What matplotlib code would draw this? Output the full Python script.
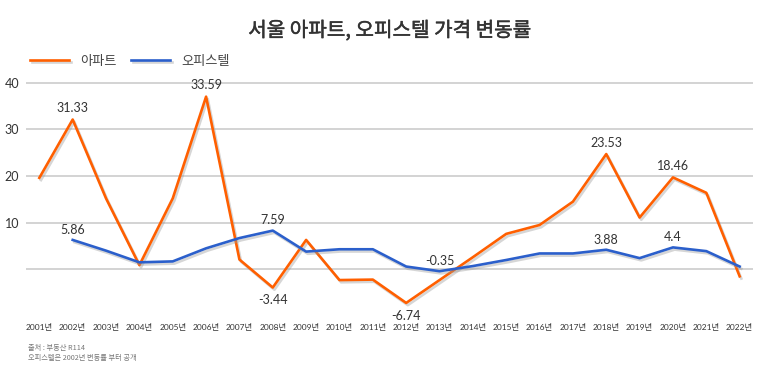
import matplotlib.pyplot as plt
import matplotlib.patheffects as pe

plt.rcParams['font.family'] = ['Lato', 'Noto Sans CJK KR', 'DejaVu Sans']

years = [str(y) for y in range(2001, 2023)]
xlabels = [y + '년' for y in years]

# 아파트 (2001-2022)
apt = [19.6, 32.1, 15.2, 0.9, 15.2, 37.0, 2.1, -3.9, 6.3, -2.3, -2.2,
       -7.2, -2.3, 2.6, 7.6, 9.5, 14.5, 24.7, 11.1, 19.7, 16.4, -1.5]
# 오피스텔 (2002-2022)
off = [6.3, 4.0, 1.5, 1.7, 4.5, 6.7, 8.3, 3.8, 4.3, 4.3,
       0.6, -0.4, 0.7, 2.0, 3.4, 3.4, 4.2, 2.4, 4.7, 3.9, 0.6]

# labelled points: (year index, text, above?)
apt_labels = [(1, '31.33', True), (5, '33.59', True), (7, '-3.44', False),
              (11, '-6.74', False), (17, '23.53', True), (19, '18.46', True)]
off_labels = [(1, '5.86', True), (7, '7.59', True), (12, '-0.35', True),
              (17, '3.88', True), (19, '4.4', True)]

orange = '#FF5F00'
blue = '#2B5FCB'

fig = plt.figure(figsize=(7.79, 3.72), dpi=100)
ax = fig.add_axes([26 / 779, 1 - 316 / 372, (753 - 26) / 779, (316 - 78) / 372])

x_apt = list(range(len(years)))
x_off = list(range(1, len(years)))

shadow = [pe.SimpleLineShadow(offset=(1.2, -1.6), shadow_color='#999999', alpha=0.4), pe.Normal()]
ax.plot(x_apt, apt, color=orange, lw=1.9, path_effects=shadow, label='아파트', zorder=3)
ax.plot(x_off, off, color=blue, lw=1.9, path_effects=shadow, label='오피스텔', zorder=3)

for i, txt, up in apt_labels:
    ax.annotate(txt, (x_apt[i], apt[i]), xytext=(0, 4 if up else -5), textcoords='offset points',
                ha='center', va='bottom' if up else 'top', fontsize=9, color='#333333')
for i, txt, up in off_labels:
    j = i - 1
    ax.annotate(txt, (x_off[j], off[j]), xytext=(0, 3 if up else -5), textcoords='offset points',
                ha='center', va='bottom' if up else 'top', fontsize=9, color='#333333')

ax.set_xlim(-0.4, 21.4)
ax.set_ylim(-10, 41)
ax.set_yticks([0, 10, 20, 30, 40])
ax.set_yticklabels(['', '10', '20', '30', '40'])
ax.set_xticks(x_apt)
ax.set_xticklabels(xlabels)
ax.tick_params(axis='x', length=0, labelsize=6, colors='#333333', pad=5)
ax.tick_params(axis='y', length=0, labelsize=9, colors='#333333', pad=5)
ax.grid(axis='y', color='#cccccc', lw=1.2, zorder=0)
for s in ax.spines.values():
    s.set_visible(False)

fig.text(0.5, 1 - 31 / 372, '서울 아파트, 오피스텔 가격 변동률', ha='center', va='center',
         fontsize=14.5, color='#333333', family=['Noto Sans CJK KR'],
         path_effects=[pe.withStroke(linewidth=0.35, foreground='#333333')])

fig.legend(loc='upper left', bbox_to_anchor=(18 / 779, 1 - 43 / 372), ncol=2, frameon=False,
           handlelength=3.0, handletextpad=0.8, columnspacing=1.1,
           labelcolor='#444444', prop={'family': ['Noto Sans CJK KR'], 'size': 9.5})

fig.text(28 / 779, 1 - 348 / 372, '출처 : 부동산 R114', fontsize=5.2, color='#777777',
         family=['Noto Sans CJK KR'], va='center')
fig.text(28 / 779, 1 - 358 / 372, '오피스텔은 2002년 변동률 부터 공개', fontsize=5.2, color='#777777',
         family=['Noto Sans CJK KR'], va='center')

fig.savefig('out.png', dpi=100, facecolor='white')
